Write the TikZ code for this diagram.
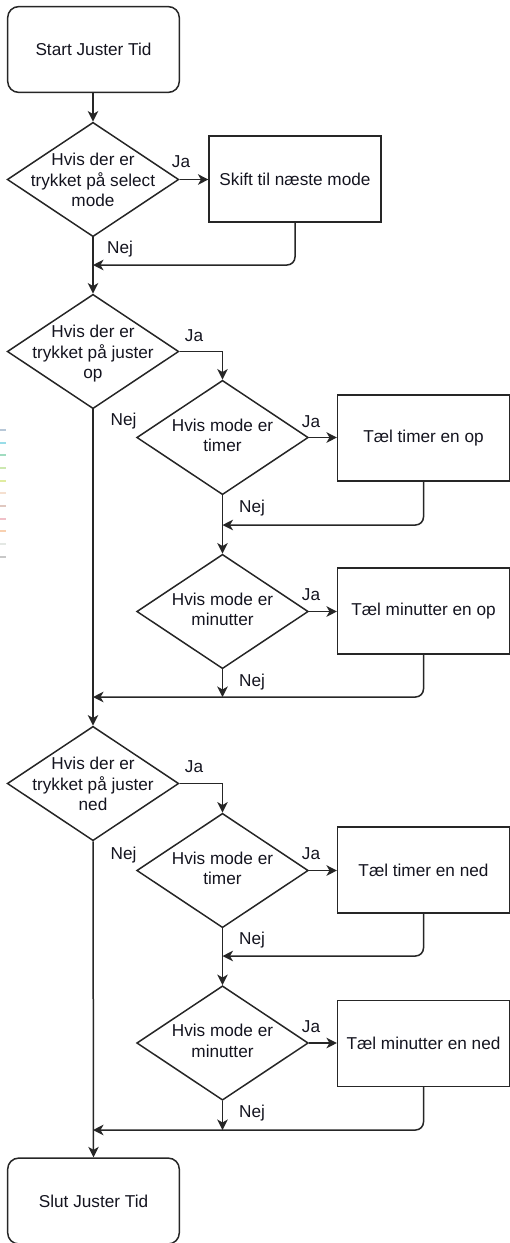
\documentclass[tikz,border=0pt]{standalone}
\usepackage{fontspec}
\setmainfont{Liberation Sans}
\usetikzlibrary{arrows.meta,shapes.geometric}
\newcommand\dtxt[2][-4.3pt]{\makebox[0pt]{\smash{\raisebox{#1}{\begin{tabular}{@{}c@{}}#2\end{tabular}}}}}
\definecolor{lncol}{HTML}{262626}
\definecolor{txcol}{HTML}{14141F}
\begin{document}
\begin{tikzpicture}[x=1pt,y=-1pt,
  every node/.style={font=\fontsize{17.2}{20.6}\selectfont, text=txcol},
  ln/.style={draw=lncol, line width=1.5pt},
  arr/.style={ln, -{Stealth[length=10.5pt,width=10.5pt,inset=3pt]}},
  rc/.style={rounded corners=8pt},
  term/.style={ln, rectangle, rounded corners=11pt, minimum width=171.6pt, minimum height=85.8pt, inner sep=0pt},
  procbox/.style={ln, rectangle, minimum width=171.6pt, minimum height=85.8pt, inner sep=0pt},
  dia/.style={ln, diamond, inner sep=0pt, minimum width=171.6pt, minimum height=114.4pt},
  lbl/.style={inner sep=0pt}
]
\useasboundingbox (0,0) rectangle (509,1243);

% small colour ticks on the left edge
\foreach \yy/\cc in {430/B8C8D8, 443/99DDE8, 455/A0DCC0, 468/CCE8B0, 481/E0ECA0, 493/F5E0D0, 506/E0C8C0, 519/F0C0C8, 531/F8D0B0, 544/E4E8E4, 557/C8C8C8}{
  \definecolor{tick}{HTML}{\cc}
  \draw[tick, line width=1.5pt] (0,\yy) -- (6,\yy);
}

\node[term] (start) at (93.5,49.5) {Start Juster Tid};
\node[dia] (d1) at (93,179.5) {\dtxt[-7pt]{Hvis der er\\trykket på select\\mode}};
\node[procbox] (b1) at (295,179) {Skift til næste mode};
\coordinate (j1) at (93,265);

\node[dia] (d2) at (93,351.5) {\dtxt[-7pt]{Hvis der er\\trykket på juster\\op}};
\node[dia] (d3) at (222.5,437.5) {\dtxt{Hvis mode er\\timer}};
\node[procbox] (b3) at (423.5,438) {Tæl timer en op};
\coordinate (j3) at (222.5,525);
\node[dia] (d4) at (222.5,611.5) {\dtxt{Hvis mode er\\minutter}};
\node[procbox] (b4) at (423.5,611) {Tæl minutter en op};
\coordinate (j4) at (93,697);

\node[dia] (d5) at (93,783.5) {\dtxt[-7pt]{Hvis der er\\trykket på juster\\ned}};
\node[dia] (d6) at (222.5,870.5) {\dtxt{Hvis mode er\\timer}};
\node[procbox] (b6) at (423.5,870) {Tæl timer en ned};
\coordinate (j6) at (222.5,956);
\node[dia] (d7) at (222.5,1043) {\dtxt{Hvis mode er\\minutter}};
\node[procbox] (b7) at (423.5,1043.5) {Tæl minutter en ned};
\coordinate (j7) at (93,1130);

\node[term] (slut) at (93.5,1201) {Slut Juster Tid};

% connectors
\draw[arr] (start.south -| d1.north) -- (d1.north);
\draw[arr] (d1.east) -- (d1.east -| b1.west);
\draw[arr, rc] (b1.south) |- (j1);
\draw[arr] (d1.south) -- (d2.north);

\draw[arr] (d2.east) -| (d3.north);
\draw[arr] (d3.east) -- (d3.east -| b3.west);
\draw[arr, rc] (b3.south) |- (j3);
\draw[arr] (d3.south) -- (d4.north);
\draw[arr] (d4.east) -- (d4.east -| b4.west);
\draw[arr, rc] (b4.south) |- (j4);
\draw[arr] (d4.south) -- (d4.south |- j4);
\draw[arr] (d2.south) -- (d5.north);

\draw[arr] (d5.east) -| (d6.north);
\draw[arr] (d6.east) -- (d6.east -| b6.west);
\draw[arr, rc] (b6.south) |- (j6);
\draw[arr] (d6.south) -- (d7.north);
\draw[arr] (d7.east) -- (d7.east -| b7.west);
\draw[arr, rc] (b7.south) |- (j7);
\draw[arr] (d7.south) -- (d7.south |- j7);
\draw[arr] (d5.south) -- (slut.north);

% labels
\node[lbl] (ja1) at (181,162) {Ja};
\node[lbl] (nej1) at (120,249) {Nej};
\node[lbl] (ja2) at (194,336) {Ja};
\node[lbl] (nej2) at (123.5,421) {Nej};
\node[lbl] (ja3) at (311,422) {Ja};
\node[lbl] (nej3) at (252,508) {Nej};
\node[lbl] (ja4) at (311,595) {Ja};
\node[lbl] (nej4) at (252,682) {Nej};
\node[lbl] (ja5) at (194,767) {Ja};
\node[lbl] (nej5) at (123.5,855) {Nej};
\node[lbl] (ja6) at (311,854) {Ja};
\node[lbl] (nej6) at (252,940) {Nej};
\node[lbl] (ja7) at (311,1027) {Ja};
\node[lbl] (nej7) at (252,1113) {Nej};
\end{tikzpicture}
\end{document}
